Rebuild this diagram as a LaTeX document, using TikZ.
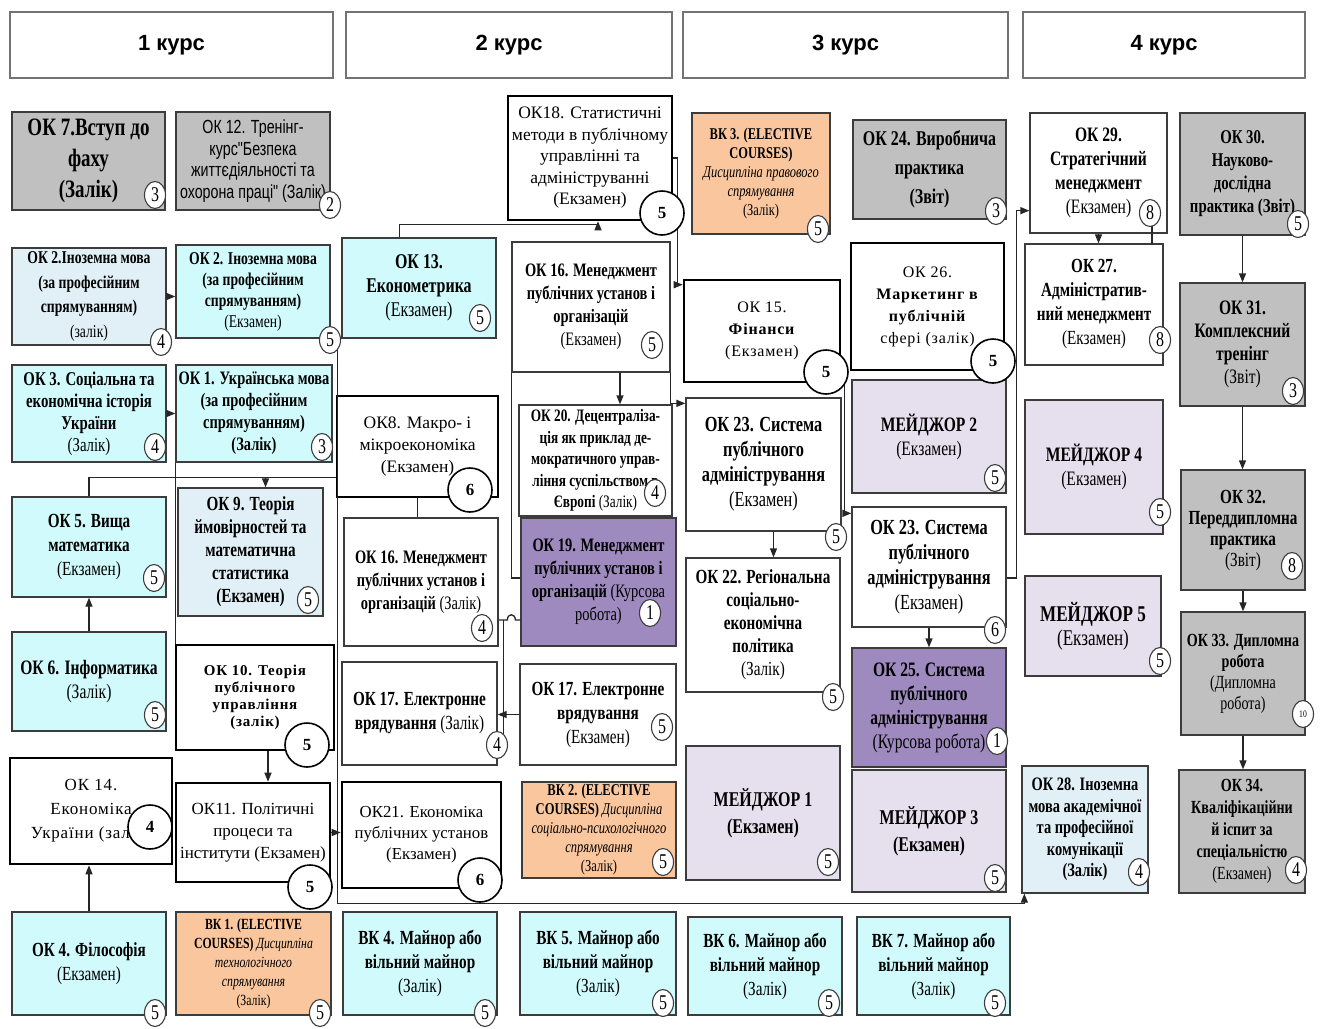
\documentclass[tikz,border=0pt]{standalone}
\usepackage{fontspec}
\setmainfont[FakeStretch=0.76]{Liberation Serif}
\newfontfamily\hdrf{Liberation Sans}
\newfontfamily\ssn[FakeStretch=0.75]{Liberation Sans}
\newfontfamily\cnd{Liberation Serif}
\newfontfamily\wid[LetterSpace=5]{Liberation Serif}
\usetikzlibrary{arrows.meta,calc,shapes.geometric}
\newcommand\fs[2]{\fontsize{#1}{#2}\selectfont}
\definecolor{gr}{RGB}{192,192,192}
\definecolor{cy}{RGB}{208,250,252}
\definecolor{cyl}{RGB}{224,240,246}
\definecolor{orn}{RGB}{250,198,158}
\definecolor{lav}{RGB}{230,224,238}
\definecolor{pur}{RGB}{158,138,190}
\definecolor{edge}{RGB}{60,60,60}
\newcommand\bx[7]{\pgfmathsetmacro\bw{#4-#2}\pgfmathsetmacro\bh{#5-#3}%
  \node[box,#6,minimum width=\bw pt,minimum height=\bh pt] (#1) at ({(#2+#4)/2},{(#3+#5)/2}) {#7};}
\begin{document}
\begin{tikzpicture}[x=1pt,y=-1pt,
  box/.style={draw=edge,line width=1.3pt,rectangle,inner sep=1pt,align=center,font=\fs{18}{22}},
  heavy/.style={draw=black,line width=2.6pt},
  hdrbox/.style={draw=black!55,line width=1.5pt,fill=white,font=\hdrf\bfseries\fs{22}{26}},
  num/.style={ellipse,draw=edge,line width=1.1pt,fill=white,minimum width=21pt,minimum height=27pt,inner sep=0pt,font=\fs{21}{21}},
  big/.style={circle,draw=black,line width=1.6pt,fill=white,minimum size=44pt,inner sep=0pt,font=\cnd\fs{17}{17}\bfseries},
  conn/.style={draw=black!85,line width=1.3pt},
  arr/.style={conn,-{Triangle[length=9pt,width=7pt]}}]
\fill[white] (0,0) rectangle (1325,1028);
\useasboundingbox (0,0) rectangle (1325,1028);
% headers
\bx{h1}{10}{12}{333}{78}{hdrbox}{1 курс}
\bx{h2}{346}{12}{672}{78}{hdrbox}{2 курс}
\bx{h3}{683}{12}{1008}{78}{hdrbox}{3 курс}
\bx{h4}{1023}{12}{1305}{78}{hdrbox}{4 курс}
% column 1
\bx{ok7}{12}{112}{165}{210}{fill=gr,font=\fs{25}{31}\bfseries}{ОК 7.Вступ до\\фаху\\(Залік)}
\bx{ok12}{176}{112}{330}{210}{fill=gr,font=\ssn\fs{19}{21.5}}{ОК 12. Тренінг-\\курс"Безпека\\життєдіяльності та\\охорона праці" (Залік)}
\bx{ok2z}{12}{248}{166}{345}{fill=cyl,font=\fs{18}{24.5}\bfseries}{ОК 2.Іноземна мова\\(за професійним\\спрямуванням)\\\mdseries(залік)}
\bx{ok2e}{176}{245}{330}{338}{fill=cy,font=\fs{18}{21}\bfseries}{ОК 2. Іноземна мова\\(за професійним\\спрямуванням)\\\mdseries(Екзамен)}
\bx{ok3}{12}{365}{166}{462}{fill=cy,font=\fs{19.5}{22}\bfseries}{ОК 3. Соціальна та\\економічна історія\\України\\\mdseries(Залік)}
\bx{ok1}{176}{365}{332}{462}{fill=cy,font=\fs{19}{22}\bfseries}{ОК 1. Українська мова\\(за професійним\\спрямуванням)\\(Залік)}
\bx{ok5}{12}{497}{166}{597}{fill=cy,font=\fs{20}{24}\bfseries}{ОК 5. Вища\\математика\\\mdseries(Екзамен)}
\bx{ok9}{178}{488}{323}{616}{fill=cyl,font=\fs{20}{23}\bfseries}{ОК 9. Теорія\\ймовірностей та\\математична\\статистика\\(Екзамен)}
\bx{ok6}{12}{632}{166}{731}{fill=cy,font=\fs{20.5}{24}\bfseries}{ОК 6. Інформатика\\\mdseries(Залік)}
\bx{ok10}{176}{645}{334}{750}{heavy,font=\wid\fs{15}{17}\bfseries}{ОК 10. Теорія\\публічного\\управління\\(залік)}
\bx{ok14}{10}{758}{172}{864}{heavy,font=\wid\fs{17}{24}}{ОК 14.\\Економіка\\України (залік)}
\bx{ok11}{176}{783}{330}{882}{heavy,font=\cnd\fs{17}{22}}{ОК11. Політичні\\процеси та\\інститути (Екзамен)}
\bx{ok4}{12}{912}{166}{1015}{fill=cy,font=\fs{20}{24}\bfseries}{ОК 4. Філософія\\\mdseries(Екзамен)}
\bx{vk1}{176}{912}{331}{1015}{fill=orn,font=\fs{15.5}{19}}{\textbf{ВК 1. (ELECTIVE}\\\textbf{COURSES)} \textit{Дисципліна}\\\textit{технологічного}\\\textit{спрямування}\\(Залік)}
% column 2
\bx{ok13}{342}{238}{496}{338}{fill=cy,font=\fs{21}{24}\bfseries}{ОК 13.\\Економетрика\\\mdseries(Екзамен)}
\bx{ok18}{508}{96}{672}{220}{heavy,font=\cnd\fs{17.5}{21.5}}{ОК18. Статистичні\\методи в публічному\\управлінні та\\адмініструванні\\(Екзамен)}
\bx{ok16e}{512}{242}{670}{372}{font=\fs{19}{23}\bfseries}{ОК 16. Менеджмент\\публічних установ і\\організацій\\\mdseries(Екзамен)}
\bx{ok8}{337}{396}{498}{497}{heavy,font=\cnd\fs{17.5}{22}}{ОК8. Макро- і\\мікроекономіка\\(Екзамен)}
\bx{ok20}{519}{405}{672}{516}{font=\fs{17.5}{21.5}\bfseries}{ОК 20. Децентраліза-\\ція як приклад де-\\мократичного управ-\\ління суспільством в\\Європі {\mdseries(Залік)}}
\bx{ok16z}{344}{518}{498}{646}{font=\fs{19}{23}\bfseries}{ОК 16. Менеджмент\\публічних установ і\\організацій {\mdseries (Залік)}}
\bx{ok19}{521}{518}{676}{646}{fill=pur,font=\fs{19}{23}\bfseries}{ОК 19. Менеджмент\\публічних установ і\\організацій {\mdseries (Курсова}\\\mdseries робота)}
\bx{ok17z}{342}{662}{497}{765}{font=\fs{20}{24}\bfseries}{ОК 17. Електронне\\врядування {\mdseries(Залік)}}
\bx{ok17e}{520}{664}{676}{765}{font=\fs{20}{24}\bfseries}{ОК 17. Електронне\\врядування\\\mdseries(Екзамен)}
\bx{ok21}{342}{782}{501}{888}{heavy,font=\cnd\fs{16.8}{21}}{ОК21. Економіка\\публічних установ\\(Екзамен)}
\bx{vk2}{522}{782}{676}{878}{fill=orn,font=\fs{16.5}{19}}{\textbf{ВК 2. (ELECTIVE}\\\textbf{COURSES)} \textit{Дисципліна}\\\textit{соціально-психологічного}\\\textit{спрямування}\\(Залік)}
\bx{vk4}{343}{912}{497}{1015}{fill=cy,font=\fs{20}{24}\bfseries}{ВК 4. Майнор або\\вільний майнор\\\mdseries(Залік)}
\bx{vk5}{520}{912}{676}{1015}{fill=cy,font=\fs{20}{24}\bfseries}{ВК 5. Майнор або\\вільний майнор\\\mdseries(Залік)}
% column 3
\bx{vk3}{692}{113}{830}{234}{fill=orn,font=\fs{16.4}{19}}{\textbf{ВК 3. (ELECTIVE}\\\textbf{COURSES)}\\\textit{Дисципліна правового}\\\textit{спрямування}\\(Залік)}
\bx{ok15}{684}{280}{840}{382}{heavy,font=\wid\fs{16}{22}}{ОК 15.\\\textbf{Фінанси}\\(Екзамен)}
\bx{ok24}{853}{120}{1006}{219}{fill=gr,font=\fs{21}{29}\bfseries}{ОК 24. Виробнича\\практика\\(Звіт)}
\bx{ok26}{851}{243}{1004}{370}{heavy,font=\wid\fs{16}{22}}{ОК 26.\\\textbf{Маркетинг в}\\\textbf{публічній}\\сфері (залік)}
\bx{ok23a}{686}{398}{841}{531}{font=\fs{21.5}{25}\bfseries}{ОК 23. Система\\публічного\\адміністрування\\\mdseries(Екзамен)}
\bx{m2}{852}{380}{1006}{493}{fill=lav,font=\fs{20.5}{24}\bfseries}{МЕЙДЖОР 2\\\mdseries(Екзамен)}
\bx{ok23b}{852}{507}{1006}{627}{font=\fs{21.5}{25}\bfseries}{ОК 23. Система\\публічного\\адміністрування\\\mdseries(Екзамен)}
\bx{ok22}{686}{558}{840}{692}{font=\fs{20}{23}\bfseries}{ОК 22. Регіональна\\соціально-\\економічна\\політика\\\mdseries(Залік)}
\bx{ok25}{852}{648}{1006}{767}{fill=pur,font=\fs{20.5}{24}\bfseries}{ОК 25. Система\\публічного\\адміністрування\\\mdseries(Курсова робота)}
\bx{m1}{686}{746}{840}{880}{fill=lav,font=\fs{21}{27}\bfseries}{МЕЙДЖОР 1\\(Екзамен)}
\bx{m3}{852}{770}{1006}{892}{fill=lav,font=\fs{21}{27}\bfseries}{МЕЙДЖОР 3\\(Екзамен)}
\bx{vk6}{688}{917}{842}{1015}{fill=cy,font=\fs{20}{24}\bfseries}{ВК 6. Майнор або\\вільний майнор\\\mdseries(Залік)}
\bx{vk7}{857}{917}{1010}{1015}{fill=cy,font=\fs{20}{24}\bfseries}{ВК 7. Майнор або\\вільний майнор\\\mdseries(Залік)}
% column 4
\bx{ok29}{1030}{113}{1167}{233}{font=\fs{20.5}{24}\bfseries}{ОК 29.\\Стратегічний\\менеджмент\\\mdseries(Екзамен)}
\bx{ok30}{1180}{113}{1305}{235}{fill=gr,font=\fs{19.5}{23}\bfseries}{ОК 30.\\Науково-\\дослідна\\практика (Звіт)}
\bx{ok27}{1025}{244}{1163}{365}{font=\fs{20}{24}\bfseries}{ОК 27.\\Адміністратив-\\ний менеджмент\\\mdseries(Екзамен)}
\bx{ok31}{1180}{283}{1305}{406}{fill=gr,font=\fs{20.5}{23}\bfseries}{ОК 31.\\Комплексний\\тренінг\\\mdseries(Звіт)}
\bx{m4}{1025}{400}{1163}{534}{fill=lav,font=\fs{20.5}{24}\bfseries}{МЕЙДЖОР 4\\\mdseries(Екзамен)}
\bx{ok32}{1181}{470}{1305}{590}{fill=gr,font=\fs{20}{21}\bfseries}{ОК 32.\\Переддипломна\\практика\\\mdseries(Звіт)}
\bx{m5}{1025}{576}{1161}{676}{fill=lav,font=\fs{22.5}{24}\bfseries}{МЕЙДЖОР 5\\\mdseries(Екзамен)}
\bx{ok33}{1181}{612}{1305}{735}{fill=gr,font=\fs{18.5}{21}\bfseries}{ОК 33. Дипломна\\робота\\\mdseries(Дипломна\\\mdseries робота)}
\bx{ok28}{1022}{766}{1148}{893}{fill=cyl,font=\fs{19}{21.5}\bfseries}{ОК 28. Іноземна\\мова академічної\\та професійної\\комунікації\\(Залік)}
\bx{ok34}{1179}{770}{1305}{893}{fill=gr,font=\fs{18.5}{22}\bfseries}{ОК 34.\\Кваліфікаційни\\й іспит за\\спеціальністю\\\mdseries(Екзамен)}
% connectors
\draw[arr] (ok2z.east) -- (ok2z.east -| ok2e.west);
\draw[arr] (ok3.east) -- (ok3.east -| ok1.west);
\coordinate (c5) at ($(ok5.north)+(0,-19)$);
\draw[conn] (ok5.north) -- (c5) -- (c5 -| ok8.west);
\coordinate (c9) at ($(ok9.north)+(15,0)$);
\draw[arr] (c9 |- c5) -- (c9);
\draw[arr] (ok6.north) -- (ok5.south);
\draw[arr] (ok4.north) -- (ok4.north |- ok14.south);
\draw[conn] (ok1.south west) -- (ok1.south west |- ok10.north);
\coordinate (c10) at ($(ok10.south)+(13,0)$);
\draw[arr] (c10) -- (c10 |- ok11.north);
\coordinate (c2a) at ($(ok2e.south east)+(7,0)$);
\coordinate (c2b) at ($(ok28.south west)+(3,0)$);
\coordinate (c2c) at ($(ok21.south)+(0,14)$);
\draw[arr] (ok2e.south east) -- (c2a) -- (c2a |- c2c) -- (c2b |- c2c) -- (c2b);
\draw[arr] (ok11.east) -- (ok11.east -| ok21.west);
\coordinate (c13) at ($(ok13.north west)+(58,0)$);
\coordinate (c18) at ($(ok18.south)+(8,0)$);
\draw[arr] (c13) -- ($(c13)+(0,-13)$) -| (c18);
\draw[arr] (ok18.east) -- ++(4,0) |- ($(ok15.north west)+(0,6)$);
\coordinate (c16) at ($(ok16e.south)+(29,0)$);
\draw[arr] (c16) -- (c16 |- ok20.north);
\draw[arr] (ok16e.south east) |- ($(ok23a.north west)+(0,6)$);
\draw[conn] (ok16e.south west) |- ($(ok19.west)+(0,-4)$);
\draw[conn] (ok8.south) -- (ok8.south |- ok16z.north);
\coordinate (c19) at ($(ok19.west)+(0,38)$);
\coordinate (ch) at (ok16e.south west |- c19);
\draw[conn] (c19) -- ($(ch)+(4,0)$) .. controls +(0,-7) and +(0,-7) .. ($(ch)+(-4,0)$) -- (c19 -| ok16z.east);
\coordinate (cv) at ($(ok16z.east |- c19)+(5,0)$);
\draw[conn] (cv) -- ($(cv |- ok17z.east)+(0,20)$);
\draw[arr] (ok17e.west) -- (ok17e.west -| ok17z.east);
\coordinate (c15) at ($(ok15.south east)+(3,0)$);
\draw[arr] (c15) |- ($(ok23b.north west)+(0,7)$);
\coordinate (c23) at ($(ok23a.south)+(10,0)$);
\draw[arr] (c23) -- (c23 |- ok22.north);
\draw[arr] (ok23b.south) -- (ok23b.south |- ok25.north);
\draw[arr] ($(ok23b.east)+(0,11)$) -- ++(10,0) |- ($(ok29.south west)+(0,-23)$);
\draw[arr] (ok29.south) -- (ok29.south |- ok27.north);
\draw[arr] (ok30.south) -- (ok30.south |- ok31.north);
\draw[arr] (ok31.south) -- (ok31.south |- ok32.north);
\draw[arr] (ok32.south) -- (ok32.south |- ok33.north);
\draw[arr] (ok33.south) -- (ok33.south |- ok34.north);
% credit circles
\node[num] (n7) at (155,195) {3};
\node[num] (n12) at (330,205) {2};
\node[num] (n2z) at (161,342) {4};
\node[num] (n2e) at (330,340) {5};
\node[num] (n3) at (155,447) {4};
\node[num] (n1) at (322,447) {3};
\node[num] (n5) at (154,578) {5};
\node[num] (n9) at (308,600) {5};
\node[num] (n6) at (155,715) {5};
\node[num] (n4) at (155,1013) {5};
\node[num] (nv1) at (320,1013) {5};
\node[num] (n13) at (480,318) {5};
\node[num] (n16e) at (652,345) {5};
\node[num] (n20) at (655,493) {4};
\node[num] (n16z) at (482,628) {4};
\node[num] (n19) at (650,613) {1};
\node[num] (n17z) at (497,745) {4};
\node[num] (n17e) at (662,727) {5};
\node[num] (nv2) at (663,862) {5};
\node[num] (nv4) at (485,1013) {5};
\node[num] (nv5) at (663,1003) {5};
\node[num] (nv3) at (818,229) {5};
\node[num] (n24) at (996,211) {3};
\node[num] (n23a) at (836,537) {5};
\node[num] (nm2) at (995,478) {5};
\node[num] (n23b) at (995,630) {6};
\node[num] (n22) at (833,697) {5};
\node[num] (n25) at (997,741) {1};
\node[num] (nm1) at (828,862) {5};
\node[num] (nm3) at (995,878) {5};
\node[num] (nv6) at (829,1003) {5};
\node[num] (nv7) at (995,1003) {5};
\draw[conn] (1152,225) -- (1152,244);
\node[num] (n29) at (1150,213) {8};
\node[num] (n30) at (1298,224) {5};
\node[num] (n27) at (1160,340) {8};
\node[num] (n31) at (1293,391) {3};
\node[num] (nm4) at (1160,512) {5};
\node[num] (n32) at (1292,566) {8};
\node[num] (nm5) at (1160,661) {5};
\node[num,font=\fs{10}{10}] (n33) at (1303,714) {10};
\node[num] (n28) at (1139,872) {4};
\node[num] (n34) at (1296,870) {4};
\node[big] (n18) at (662,213) {5};
\node[big] (n15) at (826,372) {5};
\node[big] (n26) at (993,361) {5};
\node[big] (n8) at (470,490) {6};
\node[big] (n10) at (307,745) {5};
\node[big] (n14) at (150,827) {4};
\node[big] (n11) at (310,887) {5};
\node[big] (n21) at (480,880) {6};
\end{tikzpicture}
\end{document}
